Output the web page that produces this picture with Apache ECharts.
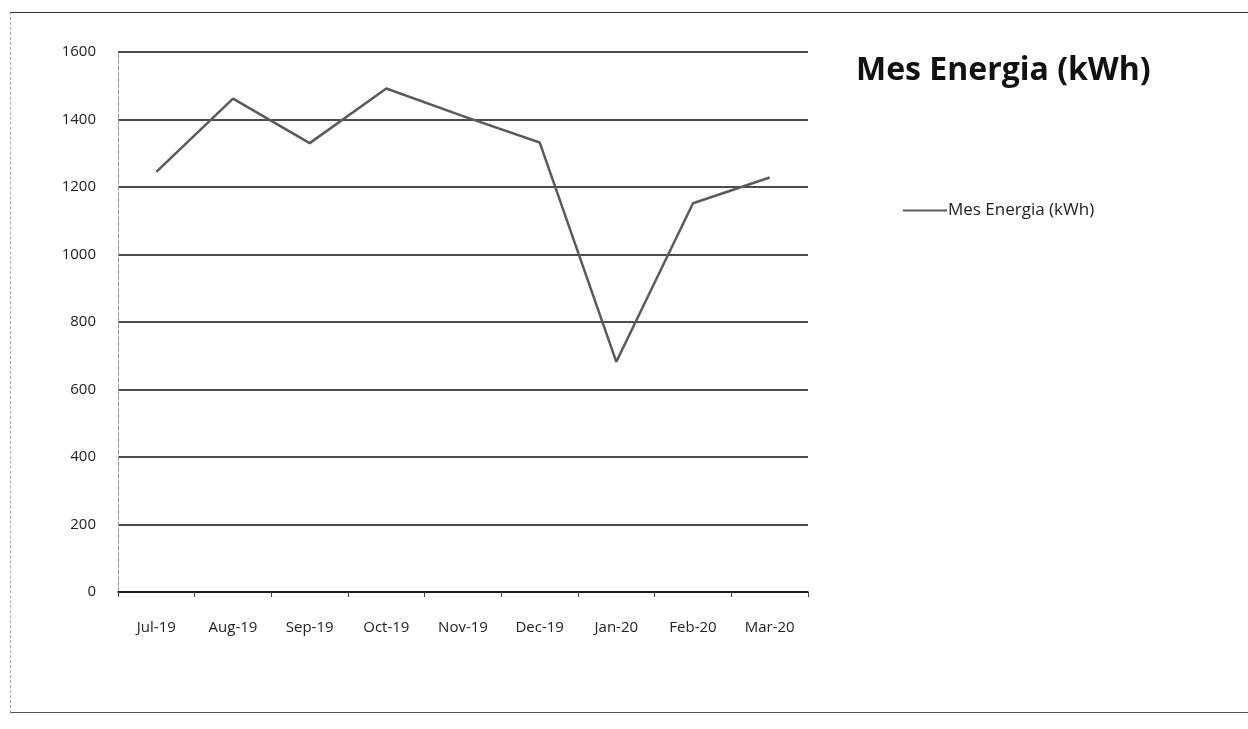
<!DOCTYPE html>
<html>
<head>
<meta charset="utf-8">
<script src="https://cdn.jsdelivr.net/npm/echarts@6/dist/echarts.min.js"></script>
<style>
  html, body { margin: 0; padding: 0; background: #fff; }
  #chart { width: 1248px; height: 729px; }
  .frame {
    position: absolute; left: 10px; top: 12px; width: 1240px; height: 699px;
    border-top: 1px solid #333; border-left: 1px dashed #aaa; border-bottom: 1px solid #555;
    pointer-events: none;
  }
</style>
</head>
<body>
<div class="frame"></div>
<div id="chart"></div>
<script>
// 月份与每月能耗
const months = ['Jul-19', 'Aug-19', 'Sep-19', 'Oct-19', 'Nov-19', 'Dec-19', 'Jan-20', 'Feb-20', 'Mar-20'];
const energy = [1245, 1462, 1330, 1492, 1410, 1332, 682, 1152, 1228];
const seriesName = 'Mes Energia (kWh)';

const chart = echarts.init(document.getElementById('chart'));
const font = 'Open Sans';

chart.setOption({
  animation: false,
  title: {
    text: seriesName,
    left: 851, top: 50,
    textStyle: { fontFamily: font, fontSize: 32, fontWeight: 'bold', color: '#111' }
  },
  legend: {
    show: true,
    orient: 'horizontal',
    left: 898, top: 197,
    itemWidth: 44, itemHeight: 2,
    itemGap: 2,
    icon: 'rect',
    textStyle: { fontFamily: font, fontSize: 17, color: '#222', padding: [0, 0, 0, -4] }
  },
  grid: { left: 118, right: 440, top: 52, bottom: 137 },
  xAxis: {
    type: 'category',
    data: months,
    boundaryGap: true,
    axisLine: { lineStyle: { color: '#111', width: 1.5 } },
    axisTick: { show: true, length: 5, lineStyle: { color: '#444' } },
    axisLabel: { fontFamily: font, fontSize: 15, color: '#222', margin: 28 }
  },
  yAxis: {
    type: 'value',
    min: 0, max: 1600, interval: 200,
    axisLine: { show: true, lineStyle: { color: '#999', type: 'dashed', width: 1 } },
    axisTick: { show: false },
    axisLabel: { fontFamily: font, fontSize: 15, color: '#222', margin: 22, formatter: v => String(v) },
    splitLine: { lineStyle: { color: '#111', width: 1.5 } }
  },
  series: [{
    name: seriesName,
    type: 'line',
    data: energy,
    symbol: 'none',
    lineStyle: { color: '#5a5a5a', width: 2.5 },
    itemStyle: { color: '#5a5a5a' }
  }]
});
</script>
</body>
</html>
